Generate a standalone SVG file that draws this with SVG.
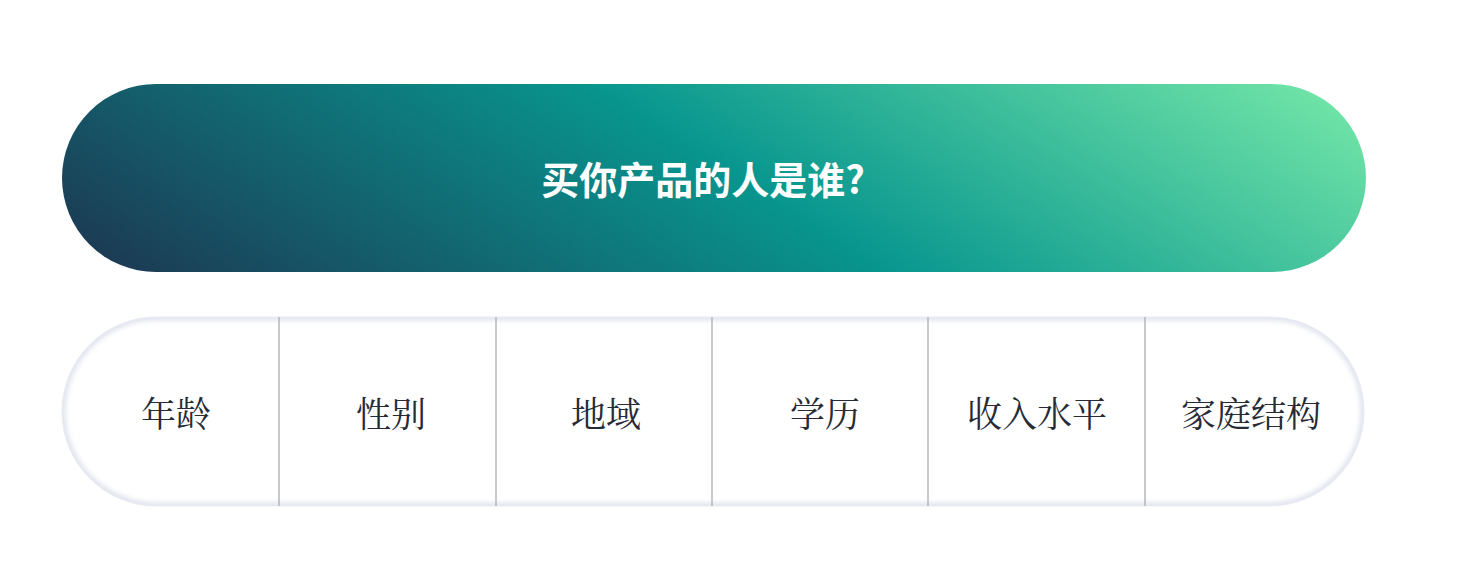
<svg xmlns="http://www.w3.org/2000/svg" width="1473" height="573" viewBox="0 0 1473 573">
  <defs>
    <linearGradient id="hdr" x1="507" y1="557" x2="972" y2="-169" gradientUnits="userSpaceOnUse">
      <stop offset="0" stop-color="#1d3450"/>
      <stop offset="0.52" stop-color="#08968f"/>
      <stop offset="1" stop-color="#78eaa9"/>
    </linearGradient>
    <filter id="soft" x="-5%" y="-20%" width="110%" height="140%">
      <feGaussianBlur stdDeviation="2.5"/>
    </filter>
    <clipPath id="pillclip">
      <rect x="62" y="317" width="1302" height="189" rx="94.5" ry="94.5"/>
    </clipPath>
    <style>
      .cell { font-family: "Noto Serif CJK SC", "Noto Sans CJK SC", serif; font-size: 35px; fill: #262b36; text-anchor: middle; dominant-baseline: central; }
      .title { font-family: "Noto Sans CJK SC", "Noto Sans", sans-serif; font-size: 38px; font-weight: 700; fill: #ffffff; text-anchor: middle; dominant-baseline: central; }
      .div { stroke: #b4b6bb; stroke-width: 1.5; }
    </style>
  </defs>

  <g id="header">
    <rect x="62" y="84" width="1304" height="188" rx="94" ry="94" fill="url(#hdr)"/>
    <text class="title" x="703" y="177">买你产品的人是谁?</text>
  </g>

  <g id="attributes-bar">
    <rect x="62" y="317" width="1302" height="189" rx="94.5" ry="94.5" fill="#ffffff"/>
    <g clip-path="url(#pillclip)">
      <rect x="62" y="317" width="1302" height="189" rx="94.5" ry="94.5" fill="none" stroke="#dfe3ed" stroke-width="7" filter="url(#soft)"/>
    </g>
    <rect x="62" y="317" width="1302" height="189" rx="94.5" ry="94.5" fill="none" stroke="#e8ebf2" stroke-width="1"/>
  </g>

  <g id="connectors">
    <line class="div" x1="279" y1="317" x2="279" y2="506"/>
    <line class="div" x1="496" y1="317" x2="496" y2="506"/>
    <line class="div" x1="712" y1="317" x2="712" y2="506"/>
    <line class="div" x1="928" y1="317" x2="928" y2="506"/>
    <line class="div" x1="1145" y1="317" x2="1145" y2="506"/>
  </g>

  <g id="node-age"><text class="cell" x="176" y="412">年龄</text></g>
  <g id="node-gender"><text class="cell" x="391" y="412">性别</text></g>
  <g id="node-region"><text class="cell" x="606" y="412">地域</text></g>
  <g id="node-education"><text class="cell" x="825" y="412">学历</text></g>
  <g id="node-income"><text class="cell" x="1037" y="412">收入水平</text></g>
  <g id="node-family"><text class="cell" x="1251" y="412">家庭结构</text></g>
</svg>
